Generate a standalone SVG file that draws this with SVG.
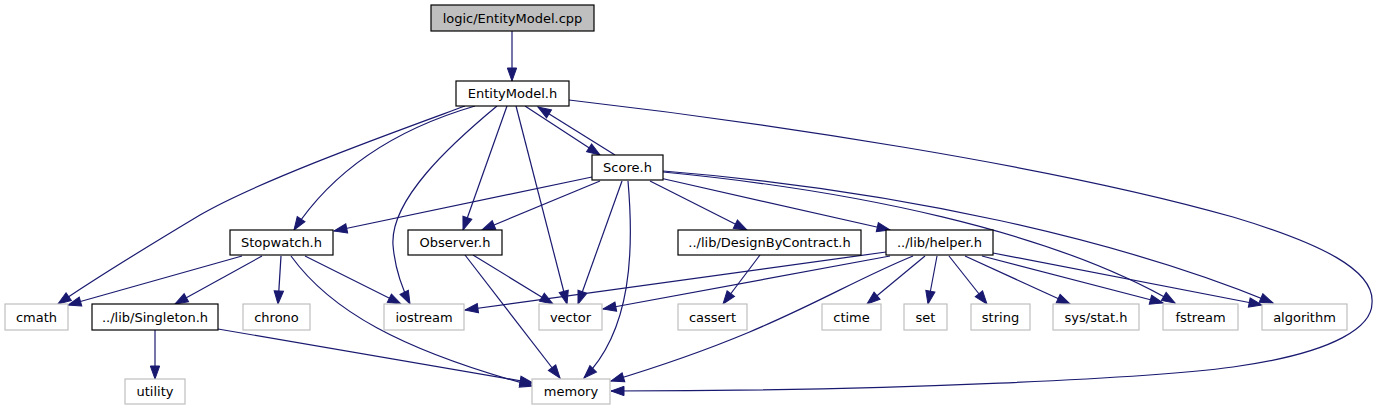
<svg xmlns="http://www.w3.org/2000/svg" width="1377" height="411" viewBox="0 0 1377 411">
<defs>
<marker id="ah" markerUnits="userSpaceOnUse" markerWidth="14" markerHeight="10" refX="13" refY="4.67" orient="auto" overflow="visible">
<path d="M0,0 L13,4.67 L0,9.33 z" fill="#191970" stroke="#191970" stroke-width="1"/>
</marker>
</defs>
<style>
rect{stroke-width:1.2}
.n rect{fill:#fff;stroke:#000}
.g rect{fill:#fff;stroke:#bfbfbf}
.root rect{fill:#bfbfbf;stroke:#000}
text{font-family:"DejaVu Sans",sans-serif;font-size:13px;fill:#000;text-anchor:middle}
#edges path{fill:none;stroke:#191970;stroke-width:1.2;marker-end:url(#ah)}
</style>
<rect width="1377" height="411" fill="#fff"/>
<g id="edges">
<path d="M512,31 L512,81"/>
<path d="M525,106 L600,155"/>
<path d="M615,155 L538,107"/>
<path d="M465,106 C400,130 260,180 200,215 C150,245 100,275 58,304"/>
<path d="M475,106 C410,125 340,160 294,230"/>
<path d="M497,106 C450,145 390,200 393,245 C395,270 402,288 410,304"/>
<path d="M507,106 L463,230"/>
<path d="M516,106 L567,304"/>
<path d="M569,100 C760,122 1050,165 1233,217 C1320,243 1375,270 1372,303 C1372,325 1340,352 1233,367 C1150,378 900,391 611,391"/>
<path d="M592,177 L334,231"/>
<path d="M600,181 L482,230"/>
<path d="M622,181 L578,304"/>
<path d="M628,181 C634,250 632,330 584,378"/>
<path d="M650,181 L747,230"/>
<path d="M660,178 L890,230"/>
<path d="M663,172 C850,190 1050,230 1175,303"/>
<path d="M663,171 C900,190 1120,240 1273,303"/>
<path d="M242,256 L68,305"/>
<path d="M262,256 L175,304"/>
<path d="M281,256 L278,304"/>
<path d="M305,256 L401,304"/>
<path d="M291,256 C330,310 400,350 533,386"/>
<path d="M155,330 L155,379"/>
<path d="M218,329 L533,383"/>
<path d="M473,255 L553,304"/>
<path d="M465,255 L560,378"/>
<path d="M760,255 L723,304"/>
<path d="M886,252 L465,310"/>
<path d="M890,256 L603,309"/>
<path d="M913,256 C830,290 780,330 611,381"/>
<path d="M925,256 L867,304"/>
<path d="M937,256 L928,304"/>
<path d="M949,256 L987,304"/>
<path d="M965,256 L1070,304"/>
<path d="M982,256 L1163,303"/>
<path d="M993,253 L1262,305"/>
</g>
<g id="node-cpp" class="root"><rect x="431" y="5" width="163" height="26"/><text x="512.5" y="22.5">logic/EntityModel.cpp</text></g>
<g id="node-entitymodel" class="n"><rect x="456" y="81" width="113" height="25"/><text x="512.5" y="98">EntityModel.h</text></g>
<g id="node-score" class="n"><rect x="592" y="155" width="71" height="25"/><text x="627.5" y="172">Score.h</text></g>
<g id="node-stopwatch" class="n"><rect x="230" y="230" width="103" height="25"/><text x="281.5" y="247">Stopwatch.h</text></g>
<g id="node-observer" class="n"><rect x="408" y="230" width="94" height="25"/><text x="455" y="247">Observer.h</text></g>
<g id="node-dbc" class="n"><rect x="678" y="230" width="183" height="25"/><text x="769.5" y="247">../lib/DesignByContract.h</text></g>
<g id="node-helper" class="n"><rect x="886" y="230" width="107" height="25"/><text x="939.5" y="247">../lib/helper.h</text></g>
<g id="node-cmath" class="g"><rect x="5" y="304" width="63" height="26"/><text x="36.5" y="321.5">cmath</text></g>
<g id="node-singleton" class="n"><rect x="92" y="304" width="126" height="26"/><text x="155" y="321.5">../lib/Singleton.h</text></g>
<g id="node-chrono" class="g"><rect x="243" y="304" width="67" height="26"/><text x="276.5" y="321.5">chrono</text></g>
<g id="node-iostream" class="g"><rect x="384" y="304" width="80" height="26"/><text x="424" y="321.5">iostream</text></g>
<g id="node-vector" class="g"><rect x="539" y="304" width="63" height="26"/><text x="570.5" y="321.5">vector</text></g>
<g id="node-cassert" class="g"><rect x="678" y="304" width="69" height="26"/><text x="712.5" y="321.5">cassert</text></g>
<g id="node-ctime" class="g"><rect x="822" y="304" width="59" height="26"/><text x="851.5" y="321.5">ctime</text></g>
<g id="node-set" class="g"><rect x="904" y="304" width="43" height="26"/><text x="925.5" y="321.5">set</text></g>
<g id="node-string" class="g"><rect x="971" y="304" width="59" height="26"/><text x="1000.5" y="321.5">string</text></g>
<g id="node-sysstat" class="g"><rect x="1053" y="304" width="86" height="26"/><text x="1096" y="321.5">sys/stat.h</text></g>
<g id="node-fstream" class="g"><rect x="1163" y="304" width="75" height="26"/><text x="1200.5" y="321.5">fstream</text></g>
<g id="node-algorithm" class="g"><rect x="1262" y="304" width="85" height="26"/><text x="1304.5" y="321.5">algorithm</text></g>
<g id="node-utility" class="g"><rect x="125" y="379" width="60" height="25"/><text x="155" y="396">utility</text></g>
<g id="node-memory" class="g"><rect x="532" y="379" width="78" height="25"/><text x="571" y="396">memory</text></g>
</svg>
